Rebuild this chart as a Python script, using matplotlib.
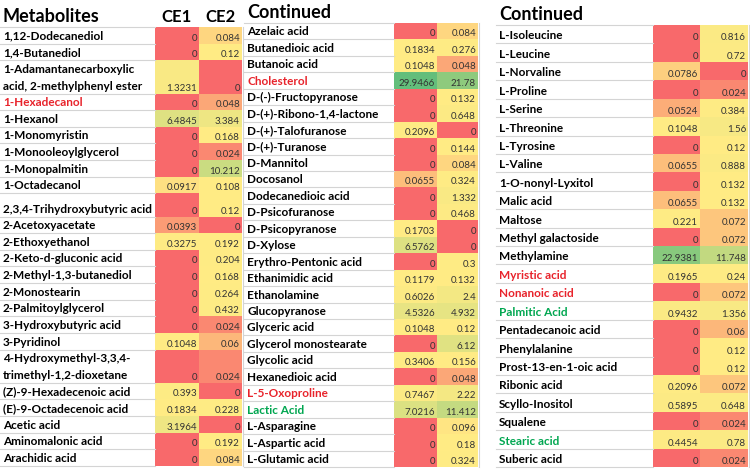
import numpy as np
import matplotlib
matplotlib.use("Agg")
import matplotlib.pyplot as plt

# Table data, one block per panel (name, CE1, CE2)
names_1 = ["1,12-Dodecanediol", "1,4-Butanediol",
           "1-Adamantanecarboxylic\nacid, 2-methylphenyl ester",
           "1-Hexadecanol", "1-Hexanol", "1-Monomyristin", "1-Monooleoylglycerol",
           "1-Monopalmitin", "1-Octadecanol", "2,3,4-Trihydroxybutyric acid",
           "2-Acetoxyacetate", "2-Ethoxyethanol", "2-Keto-d-gluconic acid",
           "2-Methyl-1,3-butanediol", "2-Monostearin", "2-Palmitoylglycerol",
           "3-Hydroxybutyric acid", "3-Pyridinol",
           "4-Hydroxymethyl-3,3,4-\ntrimethyl-1,2-dioxetane",
           "(Z)-9-Hexadecenoic acid", "(E)-9-Octadecenoic acid", "Acetic acid",
           "Aminomalonic acid", "Arachidic acid"]
ce1_1 = [0, 0, 1.3231, 0, 6.4845, 0, 0, 0, 0.0917, 0, 0.0393, 0.3275, 0, 0, 0, 0,
         0, 0.1048, 0, 0.393, 0.1834, 3.1964, 0, 0]
ce2_1 = [0.084, 0.12, 0, 0.048, 3.384, 0.168, 0.024, 10.212, 0.108, 0.12, 0, 0.192,
         0.204, 0.168, 0.264, 0.432, 0.024, 0.06, 0.024, 0, 0.228, 0, 0.192, 0.084]

names_2 = ["Azelaic acid", "Butanedioic acid", "Butanoic acid", "Cholesterol",
           "D-(-)-Fructopyranose", "D-(+)-Ribono-1,4-lactone", "D-(+)-Talofuranose",
           "D-(+)-Turanose", "D-Mannitol", "Docosanol", "Dodecanedioic acid",
           "D-Psicofuranose", "D-Psicopyranose", "D-Xylose", "Erythro-Pentonic acid",
           "Ethanimidic acid", "Ethanolamine", "Glucopyranose", "Glyceric acid",
           "Glycerol monostearate", "Glycolic acid", "Hexanedioic acid",
           "L-5-Oxoproline", "Lactic Acid", "L-Asparagine", "L-Aspartic acid",
           "L-Glutamic acid"]
ce1_2 = [0, 0.1834, 0.1048, 29.9466, 0, 0, 0.2096, 0, 0, 0.0655, 0, 0, 0.1703,
         6.5762, 0, 0.1179, 0.6026, 4.5326, 0.1048, 0, 0.3406, 0, 0.7467, 7.0216,
         0, 0, 0]
ce2_2 = [0.084, 0.276, 0.048, 21.78, 0.132, 0.648, 0, 0.144, 0.084, 0.324, 1.332,
         0.468, 0, 0, 0.3, 0.132, 2.4, 4.932, 0.12, 6.12, 0.156, 0.048, 2.22,
         11.412, 0.096, 0.18, 0.324]

names_3 = ["L-Isoleucine", "L-Leucine", "L-Norvaline", "L-Proline", "L-Serine",
           "L-Threonine", "L-Tyrosine", "L-Valine", "1-O-nonyl-Lyxitol", "Malic acid",
           "Maltose", "Methyl galactoside", "Methylamine", "Myristic acid",
           "Nonanoic acid", "Palmitic Acid", "Pentadecanoic acid", "Phenylalanine",
           "Prost-13-en-1-oic acid", "Ribonic acid", "Scyllo-Inositol", "Squalene",
           "Stearic acid", "Suberic acid"]
ce1_3 = [0, 0, 0.0786, 0, 0.0524, 0.1048, 0, 0.0655, 0, 0.0655, 0.221, 0, 22.9381,
         0.1965, 0, 0.9432, 0, 0, 0, 0.2096, 0.5895, 0, 0.4454, 0]
ce2_3 = [0.816, 0.72, 0, 0.024, 0.384, 1.56, 0.12, 0.888, 0.132, 0.132, 0.072, 0.072,
         11.748, 0.24, 0.072, 1.356, 0.06, 0.12, 0.12, 0.072, 0.648, 0.024, 0.78, 0.024]

# highlighted metabolite names
red_names = ["1-Hexadecanol", "Cholesterol", "L-5-Oxoproline", "Myristic acid",
             "Nonanoic acid"]
green_names = ["Lactic Acid", "Palmitic Acid", "Stearic acid"]

# Excel style 3-colour scale: min -> red, median -> yellow, max -> green
RED = np.array([248, 105, 107]) / 255
YEL = np.array([255, 235, 132]) / 255
GRN = np.array([99, 190, 123]) / 255
all_vals = np.array(ce1_1 + ce2_1 + ce1_2 + ce2_2 + ce1_3 + ce2_3)
vmin, vmid, vmax = all_vals.min(), np.percentile(all_vals, 50), all_vals.max()


def cell_color(v):
    if v <= vmid:
        t = (v - vmin) / (vmid - vmin)
        return RED + (YEL - RED) * t
    t = (v - vmid) / (vmax - vmid)
    return YEL + (GRN - YEL) * t


plt.rcParams["font.family"] = ["Lato", "DejaVu Sans"]
fig = plt.figure(figsize=(7.5, 4.7), dpi=100)
ax = fig.add_axes([0, 0, 1, 1])
ax.set_xlim(0, 750)
ax.set_ylim(470, 0)
ax.axis("off")

# panel layout: x of label, CE1 cell, CE2 cell, right edge; header height; bottom
panels = [
    dict(names=names_1, ce1=ce1_1, ce2=ce2_1, x0=1, xa=155, xb=199, xc=242,
         top=27, bottom=466, title="Metabolites", cols=True),
    dict(names=names_2, ce1=ce1_2, ce2=ce2_2, x0=245, xa=394, xb=437, xc=478,
         top=23, bottom=467, title="Continued", cols=False),
    dict(names=names_3, ce1=ce1_3, ce2=ce2_3, x0=497, xa=653, xb=700, xc=748,
         top=25, bottom=467, title="Continued", cols=False),
]
tall_rows = {"2,3,4-Trihydroxybutyric acid": 1.4}

for p in panels:
    units = [tall_rows.get(n, n.count("\n") + 1) for n in p["names"]]
    unit_px = (p["bottom"] - p["top"]) / sum(units)
    heights = np.array(units) * unit_px
    tops = p["top"] + np.concatenate([[0], np.cumsum(heights)[:-1]])
    centers = tops + heights / 2

    # coloured value cells
    for vals, xl, xr in [(p["ce1"], p["xa"], p["xb"]), (p["ce2"], p["xb"], p["xc"])]:
        ax.barh(centers, xr - xl, left=xl, height=heights,
                color=[cell_color(v) for v in vals], linewidth=0)
        for c, h, v in zip(centers, heights, vals):
            ax.text(xr - 2, c + h / 2 - 3, f"{v:g}", ha="right", va="baseline",
                    fontsize=7, color="#333333")

    # row separators
    for t in list(tops) + [p["bottom"]]:
        ax.plot([p["x0"] - 1, p["xa"]], [t, t], color="#d4d4d4", lw=0.8)
    ax.plot([p["xc"] + 1, p["xc"] + 1], [p["top"], p["bottom"]], color="#d4d4d4", lw=0.8)

    # metabolite names
    for name, t, h in zip(p["names"], tops, heights):
        col = "#e8232b" if name in red_names else ("#00a650" if name in green_names else "black")
        lines = name.split("\n")
        for i, line in enumerate(lines):
            base = t + h - 4 - (len(lines) - 1 - i) * unit_px
            ax.text(p["x0"] + 2, base, line, ha="left", va="baseline",
                    fontsize=8.5, fontweight="bold", color=col)

    # header
    ax.text(p["x0"] + 2, p["top"] - 5, p["title"], ha="left", va="baseline",
            fontsize=13, fontweight="bold")
    if p["cols"]:
        ax.text((p["xa"] + p["xb"]) / 2, p["top"] - 5, "CE1", ha="center",
                va="baseline", fontsize=12, fontweight="bold")
        ax.text((p["xb"] + p["xc"]) / 2, p["top"] - 5, "CE2", ha="center",
                va="baseline", fontsize=12, fontweight="bold")

fig.savefig("out.png", dpi=100)
